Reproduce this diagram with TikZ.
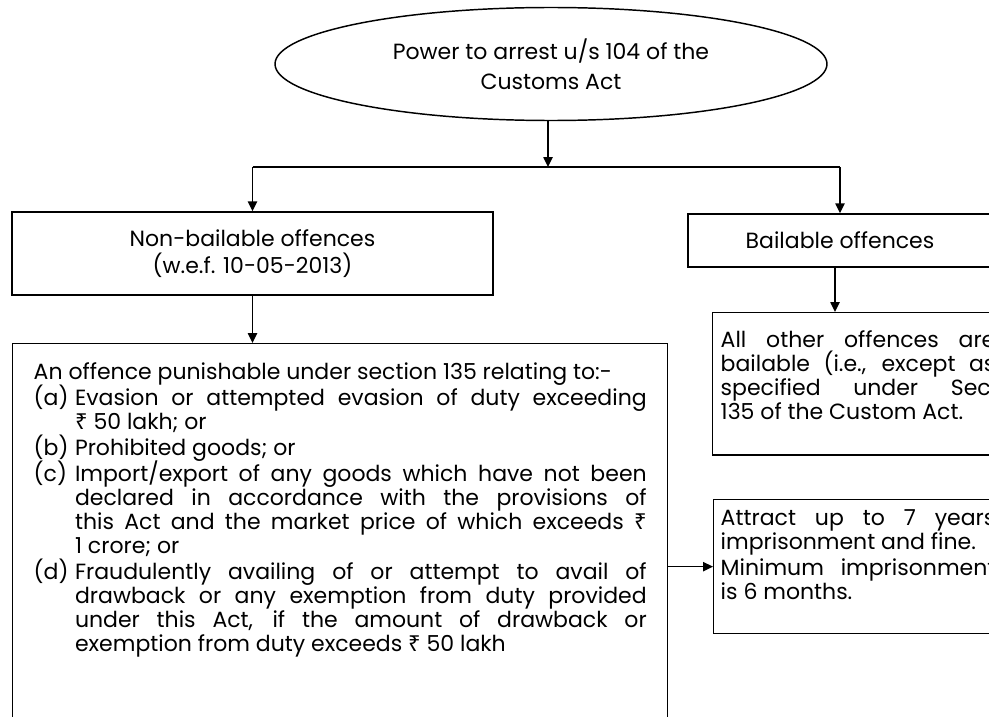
\documentclass[tikz,border=0pt]{standalone}
\usepackage{fontspec}
\setmainfont{Poppins}
\newfontfamily\rupeefont{Noto Sans}
\usetikzlibrary{arrows.meta,positioning,shapes.geometric}
\newcommand{\rs}{{\rupeefont ₹}}
\newcommand{\tail}[1]{\rule[-#1]{0pt}{0pt}}
\newlength{\clauseind}
\setlength{\clauseind}{31pt}
\newcommand{\clause}[2]{\par\hangindent=\clauseind\hangafter=1\noindent\makebox[\clauseind][l]{#1}#2\par}
\tikzset{
  box/.style={draw, line width=1.1pt, inner sep=0pt, align=center,
              font=\fontsize{16.5}{20}\selectfont},
  txtbox/.style={draw, line width=1.1pt, align=justify, anchor=north west,
              font=\fontsize{16.5}{18}\selectfont,
              execute at begin node={\setlength{\parindent}{0pt}\setlength{\parskip}{1.5pt}%
                \setlength{\lineskiplimit}{-100pt}}},
  oval/.style={draw, ellipse, line width=1.1pt, inner sep=0pt, align=center,
              font=\fontsize{16.5}{22.5}\selectfont},
  flow/.style={-{Triangle[length=7.5pt, width=7pt]}, line width=1.1pt},
  link/.style={line width=1.1pt},
}
\begin{document}
\begin{tikzpicture}[x=0.75pt, y=-0.75pt]
  \clip (0,0) rectangle (989,717);
  % top of the tree
  \node[oval, minimum width=414pt, minimum height=84.75pt] (power) at (551,64)
    {Power to arrest u/s 104 of the\\Customs Act};
  \coordinate (split) at (548,167);
  \node[box, minimum width=360.75pt, minimum height=62.25pt] (nonbail) at (252.5,253.5)
    {Non-bailable offences\\(w.e.f. 10-05-2013)};
  \node[box, minimum width=228pt, minimum height=39.75pt] (bail) at (840,240.5)
    {Bailable offences};
  % text boxes
  \node[txtbox, text width=459.75pt, inner xsep=15.75pt, inner ysep=14.25pt] (offence) at (12,343)
    {An offence punishable under section 135 relating to:-
     \clause{(a)}{Evasion or attempted evasion of duty exceeding\linebreak \rs{} 50 lakh; or}
     \clause{(b)}{Prohibited goods; or}
     \clause{(c)}{Import/export of any goods which have not been\linebreak declared in accordance with the provisions of\linebreak this Act and the market price of which exceeds \rs\linebreak 1 crore; or}
     \clause{(d)}{Fraudulently availing of or attempt to avail of\linebreak drawback or any exemption from duty provided\linebreak under this Act, if the amount of drawback or\linebreak exemption from duty exceeds \rs{} 50 lakh\tail{80pt}}};
  \node[txtbox, text width=206pt, inner xsep=6pt, inner ysep=13.5pt] (others) at (712,312)
    {All other offences are\linebreak bailable (i.e., except as\linebreak specified under Sec.\linebreak 135 of the Custom Act.\tail{13pt}};
  \node[txtbox, text width=206pt, inner xsep=5.25pt, inner ysep=7.5pt] (penalty) at (713,499)
    {Attract up to 7 years\linebreak imprisonment and fine.\par
     Minimum imprisonment\linebreak is 6 months.\tail{18pt}};
  % connectors
  \draw[flow] (split |- power.south) -- (split);
  \draw[link] (nonbail.north |- split) -- (bail.north |- split);
  \draw[flow] (nonbail.north |- split) -- (nonbail.north);
  \draw[flow] (bail.north |- split) -- (bail.north);
  \draw[flow] (nonbail.south) -- (nonbail.south |- offence.north);
  \draw[flow] ([xshift=-3.75pt]bail.south) -- ([xshift=-3.75pt]bail.south |- others.north);
  \draw[flow] (offence.east |- penalty.west) -- (penalty.west);
\end{tikzpicture}
\end{document}
